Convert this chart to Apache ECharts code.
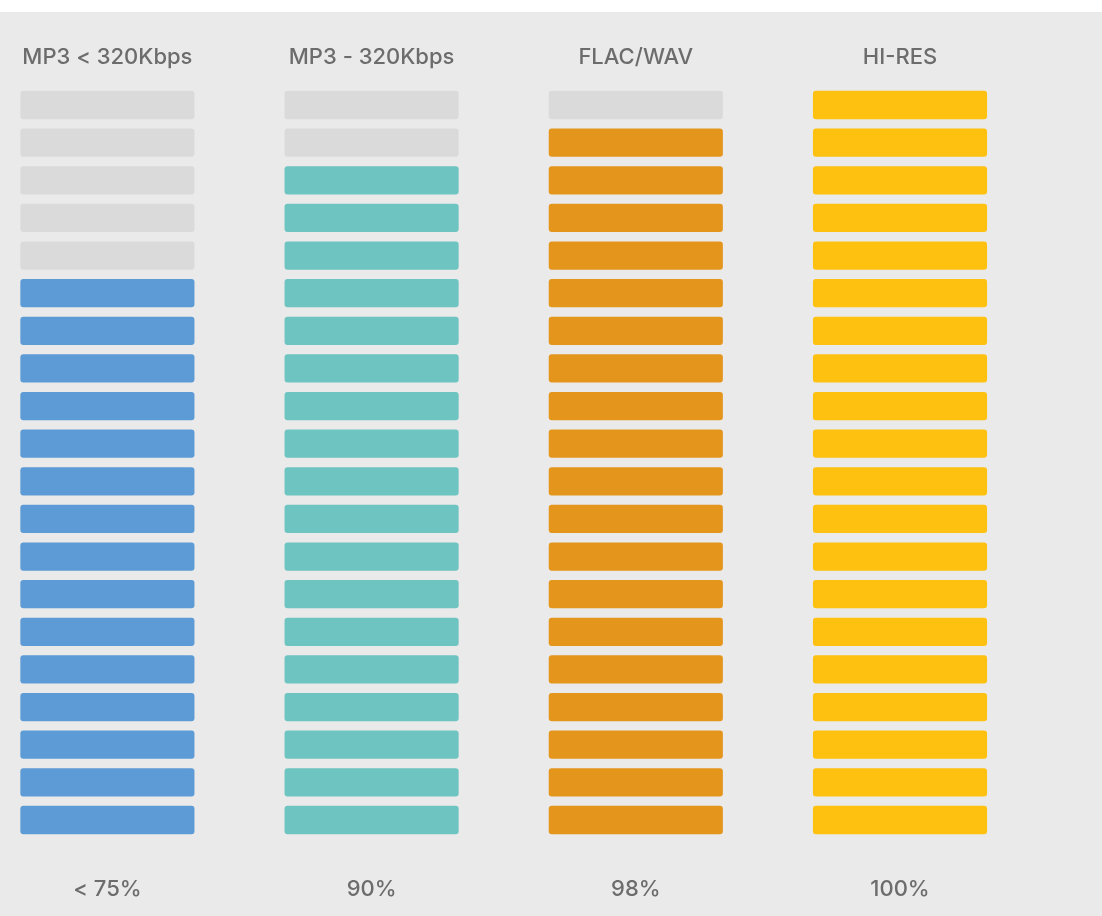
<!DOCTYPE html>
<html>
<head>
<meta charset="utf-8">
<script src="https://cdn.jsdelivr.net/npm/echarts@6/dist/echarts.min.js"></script>
<style>
  html, body { margin: 0; padding: 0; background: #ffffff; }
  #chart { position: absolute; left: 0; top: 12px; width: 1102px; height: 904px; }
</style>
</head>
<body>
<div id="chart"></div>
<script>
// ---- data ----
const categories = ['MP3 < 320Kbps', 'MP3 - 320Kbps', 'FLAC/WAV', 'HI-RES'];
const percentLabels = ['< 75%', '90%', '98%', '100%'];
const filledSegments = [15, 18, 19, 20];
const totalSegments = 20;

// ---- styles ----
const fillColors = ['#5c9bd6', '#6dc4c0', '#e3951c', '#fec10f'];
const emptyColor = '#dadada';
const textColor = '#6c6c6c';

// build segment table: [column, row, filled]
const segments = [];
categories.forEach(function (c, ci) {
  for (let r = 0; r < totalSegments; r++) {
    segments.push([ci, r, r < filledSegments[ci] ? 1 : 0]);
  }
});

const labelStyle = { color: textColor, fontFamily: 'Inter', fontSize: 22, fontWeight: 500, verticalAlign: 'middle', interval: 0 };

const chart = echarts.init(document.getElementById('chart'));
chart.setOption({
  backgroundColor: '#eaeaea',
  animation: false,
  grid: { left: 107.4, right: 202, top: 74.2, bottom: 77.2 },
  xAxis: [
    {
      type: 'category', data: categories, position: 'top', boundaryGap: false,
      axisLine: { show: false }, axisTick: { show: false }, splitLine: { show: false },
      axisLabel: Object.assign({ margin: 29 }, labelStyle)
    },
    {
      type: 'category', data: percentLabels, position: 'bottom', boundaryGap: false,
      axisLine: { show: false }, axisTick: { show: false }, splitLine: { show: false },
      axisLabel: Object.assign({ margin: 50.5 }, labelStyle)
    }
  ],
  yAxis: { type: 'value', min: 0, max: totalSegments, show: false },
  series: [{
    type: 'custom',
    xAxisIndex: 0,
    data: segments,
    renderItem: function (params, api) {
      const col = api.value(0), row = api.value(1), filled = api.value(2);
      const pBottom = api.coord([col, row]);
      const pTop = api.coord([col, row + 1]);
      const step = api.size([1, 0])[0];
      const w = step * 0.659;
      const cellH = pBottom[1] - pTop[1];
      const h = cellH * 0.752;
      return {
        type: 'rect',
        shape: { x: pBottom[0] - w / 2, y: pTop[1] + (cellH - h) / 2, width: w, height: h, r: 3 },
        style: { fill: filled ? fillColors[col] : emptyColor }
      };
    }
  }]
});
</script>
</body>
</html>
